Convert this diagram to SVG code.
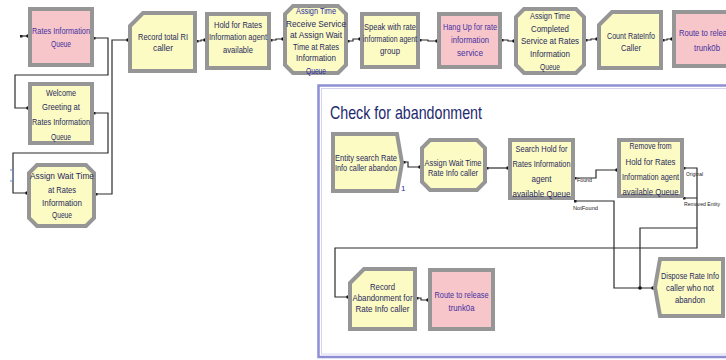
<svg xmlns="http://www.w3.org/2000/svg" width="726" height="360" viewBox="0 0 726 360">
  <defs>
    <style>
      .yel { fill: #fbfbc3; stroke: #969696; stroke-width: 4; stroke-linejoin: miter; }
      .pnk { fill: #f6c6ca; stroke: #969696; stroke-width: 4; stroke-linejoin: miter; }
      .lbl { font-family: "Liberation Sans", Arial, sans-serif; font-size: 9.5px; fill: #2a2a5e; text-anchor: middle; }
      .plbl { font-family: "Liberation Sans", Arial, sans-serif; font-size: 9.5px; fill: #4630a0; text-anchor: middle; }
      .port { font-family: "Liberation Sans", Arial, sans-serif; font-size: 6px; fill: #222; }
      .wire { fill: none; stroke: #2b2b2b; stroke-width: 1.2; marker-end: url(#dot); marker-start: url(#pin); }
      .title { font-family: "Liberation Sans", Arial, sans-serif; font-size: 19px; fill: #1e2a6e; }
    </style>
    <marker id="dot" viewBox="0 0 4 4" refX="2" refY="2" markerWidth="4" markerHeight="4" markerUnits="userSpaceOnUse">
      <circle cx="2" cy="2" r="1.8" fill="#111"/>
    </marker>
    <marker id="pin" viewBox="0 0 3 3" refX="1.5" refY="1.5" markerWidth="3" markerHeight="3" markerUnits="userSpaceOnUse">
      <rect width="3" height="3" fill="#222"/>
    </marker>
  </defs>

  <rect width="726" height="360" fill="#ffffff"/>

  <!-- sub-model frame -->
  <g id="abandon-frame">
    <rect x="318.5" y="85.5" width="420" height="271.5" fill="#ffffff" stroke="#8e8ed4" stroke-width="2.5"/>
    <rect x="321.5" y="88.5" width="414" height="265.5" fill="none" stroke="#d4d4f2" stroke-width="1"/>
    <text class="title" x="330" y="119" textLength="152" lengthAdjust="spacingAndGlyphs">Check for abandonment</text>
  </g>

  <!-- connectors -->
  <g id="connectors">
    <path class="wire" d="M21,36 H28"/>
    <path class="wire" d="M94,38 H108 V75 H15 V108 H28"/>
    <path class="wire" d="M94,113 H108 V153 H13 V193 H27"/>
    <path class="wire" d="M96,194 H112 V40 H128"/>
    <path class="wire" d="M197,41 H201 V40 H205"/>
    <path class="wire" d="M271,40 H276 V39 H283"/>
    <path class="wire" d="M348,41 H353 V39 H360"/>
    <path class="wire" d="M420,40 H428 V41 H437"/>
    <path class="wire" d="M502,40 H508 V41 H514"/>
    <path class="wire" d="M586,40 H591 V39 H597"/>
    <path class="wire" d="M663,40 H667 V39 H672"/>
    <path class="wire" d="M404,162 H408 V167 H420"/>
    <path class="wire" d="M487,168 H508"/>
    <path class="wire" d="M575,178 H596 V170 H617"/>
    <path class="wire" d="M575,201 H614 V288 H653"/>
    <path class="wire" d="M684,168 H697 V248 H335 V297 H348"/>
    <path class="wire" d="M684,198 H697 M697,228 H640 V288"/>
    <path class="wire" d="M417,298 H421 V300 H428"/>
    <path d="M10,170 H12.5 V181 H10" fill="none" stroke="#6a8ac8" stroke-width="1"/>
  </g>

  <!-- port labels -->
  <g id="port-labels">
    <text class="port" x="577" y="182" textLength="15" lengthAdjust="spacingAndGlyphs">Found</text>
    <text class="port" x="573" y="210" textLength="25" lengthAdjust="spacingAndGlyphs">NotFound</text>
    <text class="port" x="686" y="176" textLength="17" lengthAdjust="spacingAndGlyphs">Original</text>
    <text class="port" x="684" y="206" textLength="36" lengthAdjust="spacingAndGlyphs">Removed Entity</text>
  </g>

  <!-- main call flow -->
  <g id="rates-information-queue">
    <rect class="pnk" x="30" y="9" width="62" height="56"/>
    <text class="plbl" x="61" y="34" textLength="58" lengthAdjust="spacingAndGlyphs">Rates Information</text>
    <text class="plbl" x="61" y="47" textLength="20" lengthAdjust="spacingAndGlyphs">Queue</text>
  </g>

  <g id="welcome-greeting">
    <rect class="yel" x="30" y="84" width="62" height="59"/>
    <text class="lbl" x="61" y="95.5" textLength="30" lengthAdjust="spacingAndGlyphs">Welcome</text>
    <text class="lbl" x="61" y="109.5" textLength="38" lengthAdjust="spacingAndGlyphs">Greeting at</text>
    <text class="lbl" x="61" y="124.5" textLength="58" lengthAdjust="spacingAndGlyphs">Rates Information</text>
    <text class="lbl" x="61" y="139.5" textLength="20" lengthAdjust="spacingAndGlyphs">Queue</text>
  </g>

  <g id="assign-wait-time">
    <path class="yel" d="M37,165 H86 L94,173 V218 L86,226 H37 L29,218 V173 Z"/>
    <text class="lbl" x="62" y="178.5" textLength="64" lengthAdjust="spacingAndGlyphs">Assign Wait Time</text>
    <text class="lbl" x="62" y="192.5" textLength="28" lengthAdjust="spacingAndGlyphs">at Rates</text>
    <text class="lbl" x="62" y="205.5" textLength="40" lengthAdjust="spacingAndGlyphs">Information</text>
    <text class="lbl" x="62" y="217.5" textLength="20" lengthAdjust="spacingAndGlyphs">Queue</text>
  </g>

  <g id="record-total-caller">
    <path class="yel" d="M130,26 L143,13 H195 V71 H130 Z"/>
    <text class="lbl" x="163" y="40" textLength="50" lengthAdjust="spacingAndGlyphs">Record total RI</text>
    <text class="lbl" x="163" y="51" textLength="20" lengthAdjust="spacingAndGlyphs">caller</text>
  </g>

  <g id="hold-for-agent">
    <rect class="yel" x="207" y="14" width="62" height="54"/>
    <text class="lbl" x="238" y="28" textLength="48" lengthAdjust="spacingAndGlyphs">Hold for Rates</text>
    <text class="lbl" x="238" y="40" textLength="58" lengthAdjust="spacingAndGlyphs">Information agent</text>
    <text class="lbl" x="238" y="53" textLength="30" lengthAdjust="spacingAndGlyphs">available</text>
  </g>

  <g id="assign-receive-service">
    <path class="yel" d="M293,6 H338 L346,14 V65 L338,73 H293 L285,65 V14 Z"/>
    <text class="lbl" x="316" y="13.5" textLength="40" lengthAdjust="spacingAndGlyphs" style="fill:#2c2ca0">Assign Time</text>
    <text class="lbl" x="316" y="26.5" textLength="60" lengthAdjust="spacingAndGlyphs">Receive Service</text>
    <text class="lbl" x="316" y="37.5" textLength="52" lengthAdjust="spacingAndGlyphs">at Assign Wait</text>
    <text class="lbl" x="316" y="49.5" textLength="46" lengthAdjust="spacingAndGlyphs">Time at Rates</text>
    <text class="lbl" x="316" y="60.5" textLength="40" lengthAdjust="spacingAndGlyphs">Information</text>
    <text class="lbl" x="316" y="73.5" textLength="20" lengthAdjust="spacingAndGlyphs" style="fill:#2c2ca0">Queue</text>
  </g>

  <g id="speak-with-agent">
    <rect class="yel" x="362" y="14" width="56" height="53"/>
    <text class="lbl" x="390" y="30" textLength="52" lengthAdjust="spacingAndGlyphs">Speak with rate</text>
    <text class="lbl" x="390" y="41.5" textLength="54" lengthAdjust="spacingAndGlyphs">information agent</text>
    <text class="lbl" x="390" y="53.5" textLength="20" lengthAdjust="spacingAndGlyphs">group</text>
  </g>

  <g id="hang-up">
    <rect class="pnk" x="439" y="14" width="61" height="53"/>
    <text class="plbl" x="470" y="30" textLength="54" lengthAdjust="spacingAndGlyphs">Hang Up for rate</text>
    <text class="plbl" x="470" y="43" textLength="38" lengthAdjust="spacingAndGlyphs">information</text>
    <text class="plbl" x="470" y="56" textLength="26" lengthAdjust="spacingAndGlyphs">service</text>
  </g>

  <g id="assign-completed-service">
    <path class="yel" d="M524,9 H576 L584,17 V65 L576,73 H524 L516,65 V17 Z"/>
    <text class="lbl" x="550" y="18.5" textLength="40" lengthAdjust="spacingAndGlyphs">Assign Time</text>
    <text class="lbl" x="550" y="31.5" textLength="38" lengthAdjust="spacingAndGlyphs">Completed</text>
    <text class="lbl" x="550" y="43.5" textLength="58" lengthAdjust="spacingAndGlyphs">Service at Rates</text>
    <text class="lbl" x="550" y="56.5" textLength="40" lengthAdjust="spacingAndGlyphs">Information</text>
    <text class="lbl" x="550" y="69.5" textLength="20" lengthAdjust="spacingAndGlyphs">Queue</text>
  </g>

  <g id="count-rateinfo-caller">
    <path class="yel" d="M599,25 L612,12 H661 V68 H599 Z"/>
    <text class="lbl" x="631" y="38.5" textLength="48" lengthAdjust="spacingAndGlyphs">Count RateInfo</text>
    <text class="lbl" x="631" y="50.5" textLength="20" lengthAdjust="spacingAndGlyphs">Caller</text>
  </g>

  <g id="route-trunk0b">
    <rect class="pnk" x="674" y="12" width="66" height="54"/>
    <text class="plbl" x="707" y="35.5" textLength="56" lengthAdjust="spacingAndGlyphs">Route to release</text>
    <text class="plbl" x="707" y="50.5" textLength="26" lengthAdjust="spacingAndGlyphs">trunk0b</text>
  </g>

  <!-- abandonment check -->
  <g id="entity-search">
    <path class="yel" d="M333,134 H397 L402,163 L397,191 H333 Z"/>
    <text class="lbl" x="366" y="160.5" textLength="62" lengthAdjust="spacingAndGlyphs">Entity search Rate</text>
    <text class="lbl" x="366" y="170.5" textLength="62" lengthAdjust="spacingAndGlyphs">Info caller abandon</text>
    <text x="401" y="191" style="font-family:'Liberation Sans',Arial,sans-serif;font-size:8px;fill:#2c2ca0">1</text>
  </g>

  <g id="assign-wait-rate-info">
    <path class="yel" d="M430,140 H477 L485,148 V182 L477,190 H430 L422,182 V148 Z"/>
    <text class="lbl" x="453" y="165.5" textLength="57" lengthAdjust="spacingAndGlyphs">Assign Wait Time</text>
    <text class="lbl" x="453" y="175.5" textLength="50" lengthAdjust="spacingAndGlyphs">Rate Info caller</text>
  </g>

  <g id="search-hold-queue">
    <rect class="yel" x="510" y="140" width="63" height="58"/>
    <text class="lbl" x="541.5" y="152" textLength="52" lengthAdjust="spacingAndGlyphs">Search Hold for</text>
    <text class="lbl" x="541.5" y="167" textLength="58" lengthAdjust="spacingAndGlyphs">Rates Information</text>
    <text class="lbl" x="541.5" y="182" textLength="20" lengthAdjust="spacingAndGlyphs">agent</text>
    <text class="lbl" x="541.5" y="197" textLength="58" lengthAdjust="spacingAndGlyphs">available Queue</text>
  </g>

  <g id="remove-from-hold">
    <rect class="yel" x="619" y="140" width="63" height="56"/>
    <text class="lbl" x="650.5" y="148.5" textLength="42" lengthAdjust="spacingAndGlyphs">Remove from</text>
    <text class="lbl" x="650.5" y="164.5" textLength="50" lengthAdjust="spacingAndGlyphs">Hold for Rates</text>
    <text class="lbl" x="650.5" y="179.5" textLength="57" lengthAdjust="spacingAndGlyphs">Information agent</text>
    <text class="lbl" x="650.5" y="194.5" textLength="56" lengthAdjust="spacingAndGlyphs">available Queue</text>
  </g>

  <g id="dispose-not-abandon">
    <path class="yel" d="M660,259 H723 V316 H660 L655,287.5 Z"/>
    <text class="lbl" x="690" y="278.5" textLength="58" lengthAdjust="spacingAndGlyphs">Dispose Rate Info</text>
    <text class="lbl" x="690" y="290.5" textLength="48" lengthAdjust="spacingAndGlyphs">caller who not</text>
    <text class="lbl" x="690" y="302.5" textLength="30" lengthAdjust="spacingAndGlyphs">abandon</text>
  </g>

  <g id="record-abandonment">
    <path class="yel" d="M350,283 L364,269 H415 V329 H350 Z"/>
    <text class="lbl" x="382.5" y="289.5" textLength="25" lengthAdjust="spacingAndGlyphs">Record</text>
    <text class="lbl" x="382.5" y="300.5" textLength="60" lengthAdjust="spacingAndGlyphs">Abandonment for</text>
    <text class="lbl" x="382.5" y="311.5" textLength="54" lengthAdjust="spacingAndGlyphs">Rate Info caller</text>
  </g>

  <g id="route-trunk0a">
    <rect class="pnk" x="430" y="270" width="63" height="59"/>
    <text class="plbl" x="461.5" y="297.5" textLength="54" lengthAdjust="spacingAndGlyphs">Route to release</text>
    <text class="plbl" x="461.5" y="310.5" textLength="26" lengthAdjust="spacingAndGlyphs">trunk0a</text>
  </g>
</svg>
